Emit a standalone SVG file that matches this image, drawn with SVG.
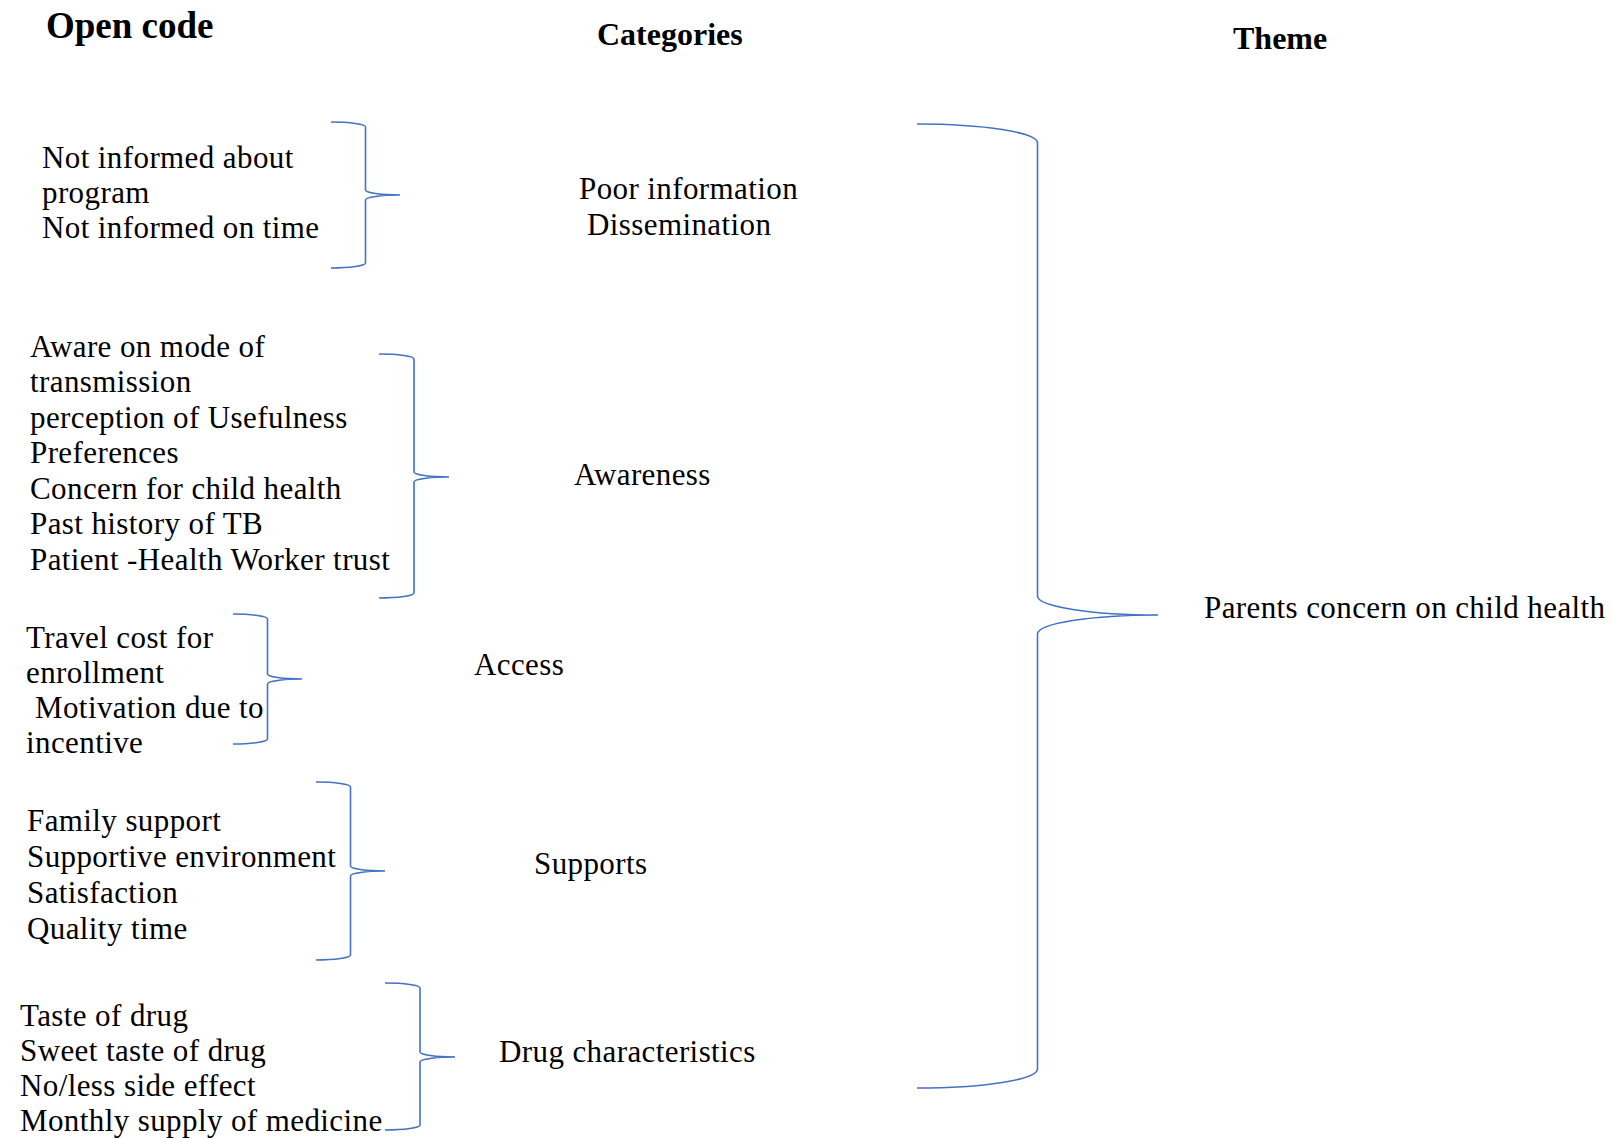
<svg xmlns="http://www.w3.org/2000/svg" width="1614" height="1138" viewBox="0 0 1614 1138">
  <style>
    .head { font-family: "Liberation Serif", "Times New Roman", serif; font-weight: bold; fill: #000; }
    .txt { font-family: "Liberation Serif", "Times New Roman", serif; font-size: 31px; letter-spacing: 0.4px; fill: #000; }
    .brace { fill: none; stroke: #4472C4; stroke-width: 1.6; }
  </style>
  <rect width="1614" height="1138" fill="#fff"/>

  <!-- column headings -->
  <g id="headings">
    <text class="head" x="46" y="38" font-size="37">Open code</text>
    <text class="head" x="597" y="45" font-size="32">Categories</text>
    <text class="head" x="1233" y="49" font-size="32">Theme</text>
  </g>

  <!-- open codes -->
  <g id="code-information">
    <text class="txt" x="42" y="168">Not informed about</text>
    <text class="txt" x="42" y="203">program</text>
    <text class="txt" x="42" y="238">Not informed on time</text>
  </g>
  <g id="code-awareness">
    <text class="txt" x="30" y="357">Aware on mode of</text>
    <text class="txt" x="30" y="392">transmission</text>
    <text class="txt" x="30" y="428">perception of Usefulness</text>
    <text class="txt" x="30" y="463">Preferences</text>
    <text class="txt" x="30" y="499">Concern for child health</text>
    <text class="txt" x="30" y="534">Past history of TB</text>
    <text class="txt" x="30" y="570">Patient -Health Worker trust</text>
  </g>
  <g id="code-access">
    <text class="txt" x="26" y="648">Travel cost for</text>
    <text class="txt" x="26" y="683">enrollment</text>
    <text class="txt" x="35" y="718">Motivation due to</text>
    <text class="txt" x="26" y="753">incentive</text>
  </g>
  <g id="code-supports">
    <text class="txt" x="27" y="831">Family support</text>
    <text class="txt" x="27" y="867">Supportive environment</text>
    <text class="txt" x="27" y="903">Satisfaction</text>
    <text class="txt" x="27" y="939">Quality time</text>
  </g>
  <g id="code-drug">
    <text class="txt" x="20" y="1026">Taste of drug</text>
    <text class="txt" x="20" y="1061">Sweet taste of drug</text>
    <text class="txt" x="20" y="1096">No/less side effect</text>
    <text class="txt" x="20" y="1131">Monthly supply of medicine</text>
  </g>

  <!-- categories -->
  <g id="cat-information">
    <text class="txt" x="579" y="199">Poor information</text>
    <text class="txt" x="587" y="235">Dissemination</text>
  </g>
  <g id="cat-awareness"><text class="txt" x="574" y="485">Awareness</text></g>
  <g id="cat-access"><text class="txt" x="474" y="675">Access</text></g>
  <g id="cat-supports"><text class="txt" x="534" y="874">Supports</text></g>
  <g id="cat-drug"><text class="txt" x="499" y="1062">Drug characteristics</text></g>

  <!-- theme -->
  <g id="theme"><text class="txt" x="1204" y="618">Parents concern on child health</text></g>

  <!-- right braces: arcs with rx = half width, vertical stem at the centre -->
  <g id="connectors">
    <path class="brace" d="M331,122 A34.5,5 0 0 1 365.5,127 L365.5,190 A34.5,5 0 0 0 400,195 A34.5,5 0 0 0 365.5,200 L365.5,263 A34.5,5 0 0 1 331,268"/>
    <path class="brace" d="M379,354 A35,5 0 0 1 414,359 L414,472 A35,5 0 0 0 449,477 A35,5 0 0 0 414,482 L414,593 A35,5 0 0 1 379,598"/>
    <path class="brace" d="M233,614 A34.5,5 0 0 1 267.5,619 L267.5,674 A34.5,5 0 0 0 302,679 A34.5,5 0 0 0 267.5,684 L267.5,739 A34.5,5 0 0 1 233,744"/>
    <path class="brace" d="M316,782 A34.5,5 0 0 1 350.5,787 L350.5,866 A34.5,5 0 0 0 385,871 A34.5,5 0 0 0 350.5,876 L350.5,955 A34.5,5 0 0 1 316,960"/>
    <path class="brace" d="M385,983 A35,5 0 0 1 420,988 L420,1052 A35,5 0 0 0 455,1057 A35,5 0 0 0 420,1062 L420,1125 A35,5 0 0 1 385,1130"/>
    <path class="brace" d="M917,124 A120.5,19 0 0 1 1037.5,143 L1037.5,596 A120.5,19 0 0 0 1158,615 A120.5,19 0 0 0 1037.5,634 L1037.5,1069 A120.5,19 0 0 1 917,1088"/>
  </g>
</svg>
